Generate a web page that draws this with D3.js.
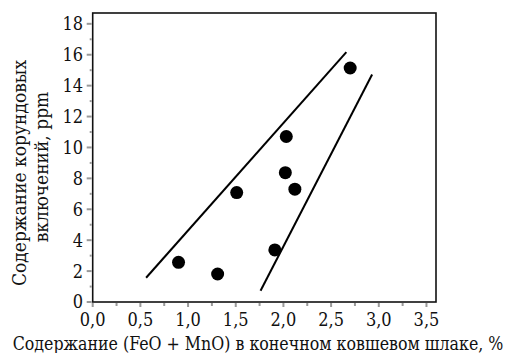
<!DOCTYPE html>
<html>
<head>
<meta charset="utf-8">
<script src="https://cdn.jsdelivr.net/npm/d3@7"></script>
<style>
  html, body { margin: 0; padding: 0; background: #fff; }
  svg { display: block; }
  text { font-family: "DejaVu Serif Condensed", "DejaVu Serif", serif; fill: #111; }
</style>
</head>
<body>
<div id="chart"></div>
<script>
// точки: (FeO + MnO), % и содержание корундовых включений, ppm
const feoMno = [0.90, 1.31, 1.51, 1.91, 2.02, 2.03, 2.12, 2.70];
const corundum = [2.57, 1.81, 7.08, 3.37, 8.37, 10.71, 7.30, 15.14];

// границы (две прямые)
const upperLine = [[0.56, 1.57], [2.66, 16.17]];
const lowerLine = [[1.76, 0.73], [2.93, 14.72]];

const xTicks = d3.range(0, 3.51, 0.25);
const yTicks = d3.range(0, 18.1, 1);

const width = 506, height = 353;
const svg = d3.select("#chart").append("svg")
    .attr("width", width)
    .attr("height", height);

const x = d3.scaleLinear().domain([0, 3.6]).range([92.7, 436]);
const y = d3.scaleLinear().domain([0, 18.7]).range([302, 13]);

// рамка
svg.append("rect")
    .attr("x", x(0)).attr("y", y(18.7))
    .attr("width", x(3.6) - x(0))
    .attr("height", y(0) - y(18.7))
    .attr("fill", "none")
    .attr("stroke", "#111")
    .attr("stroke-width", 1.6);

// деления оси X
const isMajorX = v => Math.abs(v * 2 - Math.round(v * 2)) < 1e-6;
svg.append("g").selectAll("line")
    .data(xTicks)
    .join("line")
    .attr("x1", d => x(d)).attr("x2", d => x(d))
    .attr("y1", y(0) + 1).attr("y2", d => y(0) + (isMajorX(d) ? 5 : 4))
    .attr("stroke", "#999")
    .attr("stroke-width", 2);

svg.append("g").selectAll("text")
    .data(xTicks.filter(isMajorX))
    .join("text")
    .attr("x", d => x(d))
    .attr("y", 326)
    .attr("text-anchor", "middle")
    .style("font-size", "18px")
    .text(d => d3.format(".1f")(d).replace(".", ","));

// деления оси Y
const isMajorY = v => Math.round(v) % 2 === 0;
svg.append("g").selectAll("line")
    .data(yTicks)
    .join("line")
    .attr("y1", d => y(d)).attr("y2", d => y(d))
    .attr("x1", x(0) - 1).attr("x2", d => x(0) - (isMajorY(d) ? 6 : 3))
    .attr("stroke", "#999")
    .attr("stroke-width", 2);

svg.append("g").selectAll("text")
    .data(yTicks.filter(isMajorY))
    .join("text")
    .attr("x", 83)
    .attr("y", d => y(d))
    .attr("dy", "0.36em")
    .attr("text-anchor", "end")
    .style("font-size", "18px")
    .text(d => d);

// прямые
const line = d3.line().x(d => x(d[0])).y(d => y(d[1]));
[upperLine, lowerLine].forEach(l => {
    svg.append("path")
        .attr("d", line(l))
        .attr("fill", "none")
        .attr("stroke", "#000")
        .attr("stroke-width", 2);
});

// точки
svg.append("g").selectAll("circle")
    .data(feoMno.map((v, i) => [v, corundum[i]]))
    .join("circle")
    .attr("cx", d => x(d[0]))
    .attr("cy", d => y(d[1]))
    .attr("r", 6.5)
    .attr("fill", "#000");

// подписи осей
svg.append("text")
    .attr("x", 258)
    .attr("y", 350)
    .attr("text-anchor", "middle")
    .style("font-size", "17.6px")
    .text("Содержание (FeO + MnO) в конечном ковшевом шлаке, %");

svg.append("text")
    .attr("transform", "translate(26,173) rotate(-90)")
    .attr("text-anchor", "middle")
    .style("font-size", "19px")
    .text("Содержание корундовых");

svg.append("text")
    .attr("transform", "translate(48,167) rotate(-90)")
    .attr("text-anchor", "middle")
    .style("font-size", "19px")
    .text("включений, ppm");
</script>
</body>
</html>
